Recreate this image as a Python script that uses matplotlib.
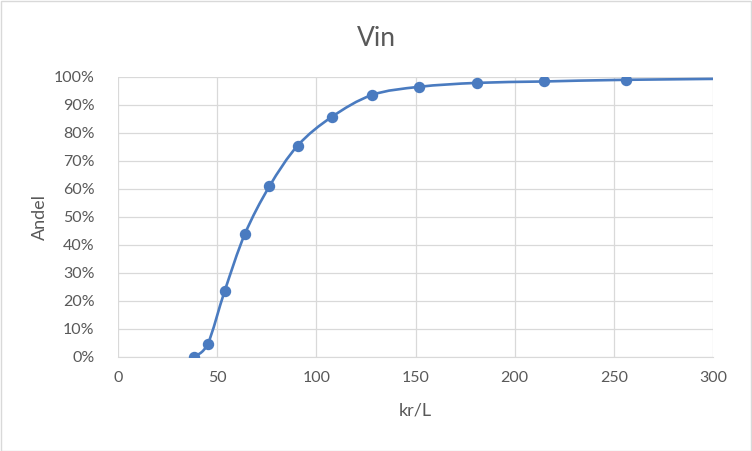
import numpy as np
import matplotlib.pyplot as plt
from matplotlib.path import Path
from matplotlib.patches import PathPatch, Rectangle
from matplotlib.ticker import PercentFormatter, MultipleLocator

# ----------------------------
# Data
# ----------------------------
pris = [38.2, 45.3, 53.8, 63.9, 76.3, 90.6, 107.7, 128.2, 152.0, 181.0, 214.9, 256.1, 330.0]
andel = [0.0, 4.8, 23.6, 43.8, 60.9, 75.5, 85.7, 93.6, 96.5, 97.9, 98.4, 99.0, 99.5]

title = "Vin"
xlabel = "kr/L"
ylabel = "Andel"

blue = "#4A7BC0"
grid = "#D9D9D9"
text = "#595959"

plt.rcParams["font.family"] = ["Lato", "DejaVu Sans"]

fig = plt.figure(figsize=(7.52, 4.51), dpi=100)
ax = fig.add_axes([118 / 752, 94 / 451, 595 / 752, 280 / 451])

# ----------------------------
# Smoothed line (Excel style bezier)
# ----------------------------
pts = np.column_stack([pris, andel])
verts = [pts[0]]
codes = [Path.MOVETO]
for i in range(len(pts) - 1):
    p0 = pts[i - 1] if i > 0 else pts[i]
    p1 = pts[i]
    p2 = pts[i + 1]
    p3 = pts[i + 2] if i + 2 < len(pts) else pts[i + 1]
    verts += [p1 + (p2 - p0) / 6, p2 - (p3 - p1) / 6, p2]
    codes += [Path.CURVE4] * 3

ax.add_patch(PathPatch(Path(verts, codes), fill=False, edgecolor=blue,
                       linewidth=1.9, capstyle="round", joinstyle="round", zorder=3))
ax.plot(pris, andel, linestyle="none", marker="o", markersize=7.2,
        color=blue, zorder=4)

ax.set_xlim(0, 300)
ax.set_ylim(0, 100)
ax.xaxis.set_major_locator(MultipleLocator(50))
ax.yaxis.set_major_locator(MultipleLocator(10))
ax.yaxis.set_major_formatter(PercentFormatter(decimals=0))

ax.grid(True, color=grid, linewidth=0.9)
ax.set_axisbelow(True)
for side in ax.spines:
    ax.spines[side].set_visible(False)
ax.spines["bottom"].set_visible(True)
ax.spines["bottom"].set_color(grid)

ax.tick_params(length=0, labelsize=11.5, labelcolor=text)
ax.tick_params(axis="y", pad=17)
ax.tick_params(axis="x", pad=10)

fig.text(0.5, 1 - 38 / 451, title, ha="center", va="center",
         fontsize=19, color=text)
fig.text(415 / 752, 1 - 411 / 451, xlabel, ha="center", va="center",
         fontsize=13, color=text)
fig.text(40 / 752, 1 - 217 / 451, ylabel, ha="center", va="center",
         rotation=90, fontsize=13, color=text)

fig.patches.append(Rectangle((0.5 / 752, 0.5 / 451), 1 - 1.5 / 752, 1 - 1.5 / 451,
                             transform=fig.transFigure, fill=False,
                             edgecolor=grid, linewidth=1))

plt.savefig("out.png", dpi=100)
plt.close()
